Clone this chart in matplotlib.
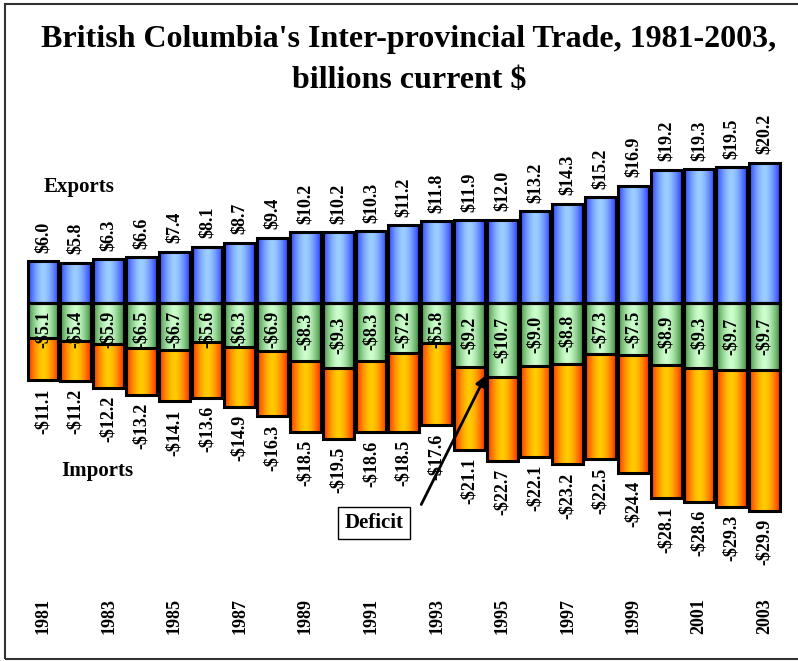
import numpy as np
import matplotlib
matplotlib.use("Agg")
import matplotlib.pyplot as plt
from matplotlib.colors import to_rgb
from matplotlib.patches import Rectangle

years = list(range(1981, 2004))
exports = [6.0, 5.8, 6.3, 6.6, 7.4, 8.1, 8.7, 9.4, 10.2, 10.2, 10.3, 11.2,
           11.8, 11.9, 12.0, 13.2, 14.3, 15.2, 16.9, 19.2, 19.3, 19.5, 20.2]
deficit = [5.1, 5.4, 5.9, 6.5, 6.7, 5.6, 6.3, 6.9, 8.3, 9.3, 8.3, 7.2,
           5.8, 9.2, 10.7, 9.0, 8.8, 7.3, 7.5, 8.9, 9.3, 9.7, 9.7]
imports = [11.1, 11.2, 12.2, 13.2, 14.1, 13.6, 14.9, 16.3, 18.5, 19.5, 18.6, 18.5,
           17.6, 21.1, 22.7, 22.1, 23.2, 22.5, 24.4, 28.1, 28.6, 29.3, 29.9]
year_labels = [str(y) for y in years[::2]]

W, H = 798, 661
FONT = "Liberation Serif"
fig = plt.figure(figsize=(W / 100, H / 100), dpi=100)

# axes placement in pixels
L, R, T, B = 10, 790, 100, 590
ax = fig.add_axes([L / W, 1 - B / H, (R - L) / W, (B - T) / H])
pitch = 32.8
scale = 6.95
x1981, base = 43, 303
ax.set_xlim(1981 - (x1981 - L) / pitch, 1981 + (R - x1981) / pitch)
ax.set_ylim(-(B - base) / scale, (base - T) / scale)

width = 0.945


def gradient(edge, center, n=64):
    e = np.array(to_rgb(edge))
    c = np.array(to_rgb(center))
    t = np.abs(np.linspace(-1, 1, n)) ** 1.6
    return (c[None, :] + (e - c)[None, :] * t[:, None])[None, :, :]


g_blue = gradient("#2a3cff", "#9ccfff")
g_orange = gradient("#ff2a00", "#ffcc00")
g_green = gradient("#3f8f3f", "#ccffcc")

for yr, ex, de, im in zip(years, exports, deficit, imports):
    x0, x1 = yr - width / 2, yr + width / 2
    ax.imshow(g_blue, extent=[x0, x1, 0, ex], aspect="auto", interpolation="bilinear", zorder=2)
    ax.imshow(g_orange, extent=[x0, x1, -im, 0], aspect="auto", interpolation="bilinear", zorder=2)
    ax.imshow(g_green, extent=[x0, x1, -de, 0], aspect="auto", interpolation="bilinear", zorder=3)

neg_imports = [-v for v in imports]
neg_deficit = [-v for v in deficit]
ax.bar(years, exports, width, facecolor="none", edgecolor="black", lw=2.2, zorder=4)
ax.bar(years, neg_imports, width, facecolor="none", edgecolor="black", lw=2.2, zorder=4)
ax.bar(years, neg_deficit, width, facecolor="none", edgecolor="black", lw=2.2, zorder=5)

ax.set_xlim(1981 - (x1981 - L) / pitch, 1981 + (R - x1981) / pitch)
ax.set_ylim(-(B - base) / scale, (base - T) / scale)

lab_kw = dict(rotation=90, ha="center", fontsize=13, fontweight="bold", family=FONT, zorder=6)
for yr, ex, de, im in zip(years, exports, deficit, imports):
    ax.annotate(f"${ex:.1f}", (yr, ex), xytext=(0, 6), textcoords="offset points", va="bottom", **lab_kw)
    ax.annotate(f"-${im:.1f}", (yr, -im), xytext=(0, -6), textcoords="offset points", va="top", **lab_kw)
    ax.text(yr, -max(de / 2, 3.85), f"-${de:.1f}", va="center", **lab_kw)

ax.set_xticks(years[::2])
ax.set_xticklabels(year_labels, rotation=90, fontsize=13, fontweight="bold", family=FONT)
ax.tick_params(axis="x", length=0, pad=6)
ax.set_yticks([])
for s in ax.spines.values():
    s.set_visible(False)
ax.patch.set_visible(False)


def px(x, y):
    return x / W, 1 - y / H


fig.text(*px(409, 40), "British Columbia's Inter-provincial Trade, 1981-2003,",
         ha="center", va="center", fontsize=23, fontweight="bold", family=FONT)
fig.text(*px(409, 80), "billions current $",
         ha="center", va="center", fontsize=23, fontweight="bold", family=FONT)
fig.text(*px(79, 187), "Exports", ha="center", va="center", fontsize=15, fontweight="bold", family=FONT)
fig.text(*px(97, 471), "Imports", ha="center", va="center", fontsize=15, fontweight="bold", family=FONT)
fig.text(*px(374, 523), "Deficit", ha="center", va="center", fontsize=15, fontweight="bold", family=FONT,
         bbox=dict(boxstyle="square,pad=0.3", facecolor="white", edgecolor="black", lw=1))
fig.add_artist(matplotlib.patches.FancyArrowPatch(px(420, 507), px(487, 373), transform=fig.transFigure,
                                                   arrowstyle="-|>", mutation_scale=15, lw=2, color="black"))

fig.add_artist(Rectangle(px(5, 659), (806 - 5) / W, (659 - 4) / H, transform=fig.transFigure,
                         facecolor="none", edgecolor="#333333", lw=1.5))

fig.savefig("out.png", dpi=100)
